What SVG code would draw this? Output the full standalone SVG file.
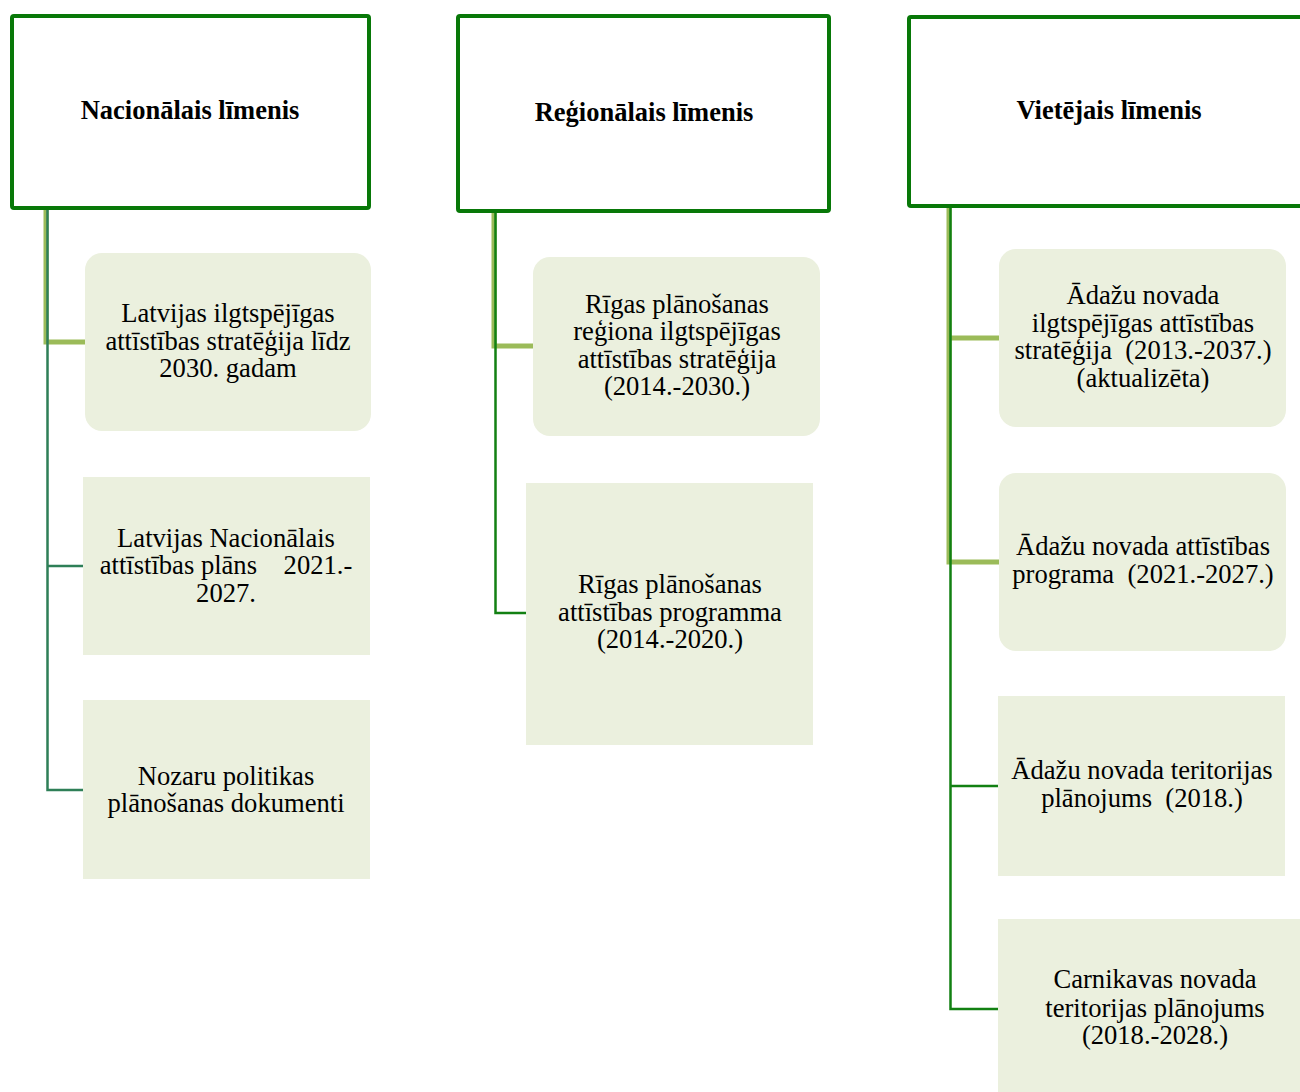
<svg xmlns="http://www.w3.org/2000/svg" width="1300" height="1092" viewBox="0 0 1300 1092">
<style>
  .lvl { fill: #FFFFFF; stroke: #087808; stroke-width: 4; }
  .doc { fill: #EBF0DE; stroke: none; }
  .h { font-family: "Liberation Serif", "Times New Roman", serif; font-size: 26.5px; font-weight: bold; fill: #000000; text-anchor: middle; }
  .t { font-family: "Liberation Serif", "Times New Roman", serif; font-size: 26.6px; fill: #000000; text-anchor: middle; }
  .lg { fill: none; stroke: #9BBB59; stroke-width: 5; }
  .dg1 { fill: none; stroke: #2E7F57; stroke-width: 2.5; }
  .dg2 { fill: none; stroke: #128012; stroke-width: 2.5; }
</style>

<g id="connectors">
  <!-- national -->
  <path class="lg" d="M46,210 V342 H85"/>
  <path class="dg1" d="M47.5,210 V790 H83 M47.5,566 H83"/>
  <!-- regional -->
  <path class="lg" d="M494,213 V346 H534"/>
  <path class="dg2" d="M495.5,213 V613 H526"/>
  <!-- local -->
  <path class="lg" d="M949,208 V562 H999 M949,338 H999"/>
  <path class="dg2" d="M950.5,208 V1009 H998 M950.5,786 H998"/>
</g>

<g id="node-nacionalais">
  <rect class="lvl" x="12" y="16" width="357" height="192" rx="2"/>
  <text class="h" x="190" y="119">Nacionālais līmenis</text>
</g>
<g id="node-regionalais">
  <rect class="lvl" x="458" y="16" width="371" height="195" rx="2"/>
  <text class="h" x="644" y="121">Reģionālais līmenis</text>
</g>
<g id="node-vietejais">
  <rect class="lvl" x="909" y="17" width="420" height="189" rx="2"/>
  <text class="h" x="1109" y="119">Vietējais līmenis</text>
</g>

<g id="node-lias2030">
  <rect class="doc" x="85" y="253" width="286" height="178" rx="17"/>
  <text class="t" x="228" y="322">Latvijas ilgtspējīgas</text>
  <text class="t" x="228" y="350">attīstības stratēģija līdz</text>
  <text class="t" x="228" y="377">2030. gadam</text>
</g>
<g id="node-nap2027">
  <rect class="doc" x="83" y="477" width="287" height="178"/>
  <text class="t" x="226" y="547">Latvijas Nacionālais</text>
  <text class="t" x="226" y="574" xml:space="preserve">attīstības plāns    2021.-</text>
  <text class="t" x="226" y="602">2027.</text>
</g>
<g id="node-nozaru">
  <rect class="doc" x="83" y="700" width="287" height="179"/>
  <text class="t" x="226" y="785">Nozaru politikas</text>
  <text class="t" x="226" y="812">plānošanas dokumenti</text>
</g>

<g id="node-rpr-strategija">
  <rect class="doc" x="533" y="257" width="287" height="179" rx="17"/>
  <text class="t" x="677" y="313">Rīgas plānošanas</text>
  <text class="t" x="677" y="340">reģiona ilgtspējīgas</text>
  <text class="t" x="677" y="368">attīstības stratēģija</text>
  <text class="t" x="677" y="395">(2014.-2030.)</text>
</g>
<g id="node-rpr-programma">
  <rect class="doc" x="526" y="483" width="287" height="262"/>
  <text class="t" x="670" y="593">Rīgas plānošanas</text>
  <text class="t" x="670" y="621">attīstības programma</text>
  <text class="t" x="670" y="648">(2014.-2020.)</text>
</g>

<g id="node-adazi-strategija">
  <rect class="doc" x="999" y="249" width="287" height="178" rx="17"/>
  <text class="t" x="1143" y="304">Ādažu novada</text>
  <text class="t" x="1143" y="332">ilgtspējīgas attīstības</text>
  <text class="t" x="1143" y="359" xml:space="preserve">stratēģija  (2013.-2037.)</text>
  <text class="t" x="1143" y="387">(aktualizēta)</text>
</g>
<g id="node-adazi-programma">
  <rect class="doc" x="999" y="473" width="287" height="178" rx="17"/>
  <text class="t" x="1143" y="555">Ādažu novada attīstības</text>
  <text class="t" x="1143" y="583" xml:space="preserve">programa  (2021.-2027.)</text>
</g>
<g id="node-adazi-tp">
  <rect class="doc" x="998" y="696" width="287" height="180"/>
  <text class="t" x="1142" y="779">Ādažu novada teritorijas</text>
  <text class="t" x="1142" y="807" xml:space="preserve">plānojums  (2018.)</text>
</g>
<g id="node-carnikava-tp">
  <rect class="doc" x="998" y="919" width="314" height="180"/>
  <text class="t" x="1155" y="988">Carnikavas novada</text>
  <text class="t" x="1155" y="1017">teritorijas plānojums</text>
  <text class="t" x="1155" y="1044">(2018.-2028.)</text>
</g>
</svg>
